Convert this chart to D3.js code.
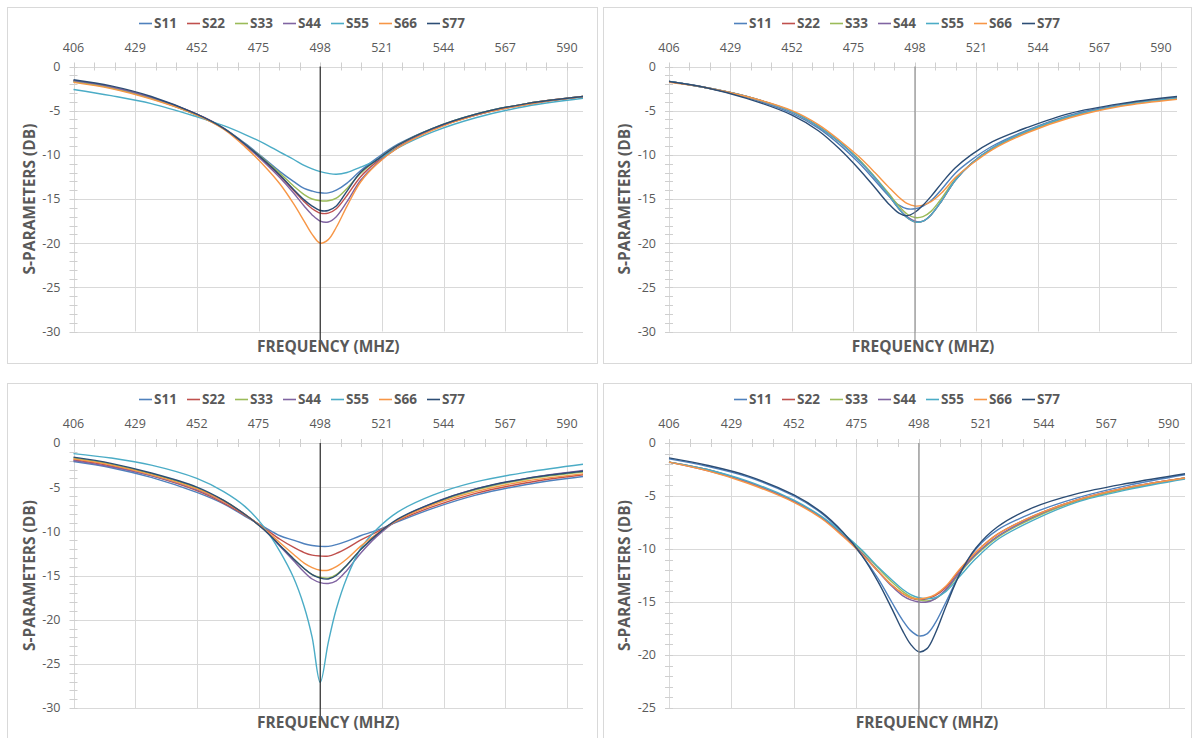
<!DOCTYPE html>
<html>
<head>
<meta charset="utf-8">
<script src="https://cdn.jsdelivr.net/npm/d3@7"></script>
<style>
  body { margin: 0; background: #fff; }
  svg { display: block; }
  text { font-family: "Open Sans", "DejaVu Sans", sans-serif; }
</style>
</head>
<body>
<svg id="chart" width="1197" height="738"></svg>
<script>
// ---- data -------------------------------------------------------------
const seriesNames  = ["S11", "S22", "S33", "S44", "S55", "S66", "S77"];
const seriesColors = ["#4F81BD", "#C0504D", "#9BBB59", "#8064A2", "#4BACC6", "#F79646", "#2C4D75"];

const freqMHz     = [406, 420, 435, 452, 462, 470, 477, 483, 488, 492, 495, 498, 501, 504, 508, 513, 519, 527, 540, 556, 575, 596];
const xTickLabels = [406, 429, 452, 475, 498, 521, 544, 567, 590];
const yTicks30    = [0, -5, -10, -15, -20, -25, -30];
const yTicks25    = [0, -5, -10, -15, -20, -25];
const markerFreq  = 498;

// chart 1 (top left)
const c1S11 = [-1.7, -2.4, -3.6, -5.5, -7.0, -8.7, -10.4, -11.9, -13.0, -13.8, -14.1, -14.3, -14.3, -14.0, -13.2, -11.8, -10.4, -8.8, -7.0, -5.4, -4.2, -3.4];
const c1S22 = [-1.6, -2.3, -3.5, -5.4, -7.0, -8.9, -10.7, -12.4, -14.0, -15.3, -16.1, -16.6, -16.6, -16.1, -14.6, -12.5, -10.8, -9.1, -7.1, -5.5, -4.2, -3.4];
const c1S33 = [-1.7, -2.4, -3.6, -5.5, -7.0, -8.8, -10.5, -12.1, -13.5, -14.5, -15.0, -15.2, -15.2, -14.9, -13.8, -12.1, -10.6, -8.9, -7.0, -5.4, -4.2, -3.4];
const c1S44 = [-1.6, -2.3, -3.5, -5.4, -7.0, -8.9, -10.8, -12.6, -14.3, -15.8, -16.8, -17.5, -17.6, -17.0, -15.3, -12.9, -11.0, -9.2, -7.1, -5.5, -4.3, -3.4];
const c1S55 = [-2.6, -3.3, -4.2, -5.7, -6.7, -7.7, -8.7, -9.7, -10.5, -11.2, -11.6, -11.9, -12.1, -12.2, -12.0, -11.4, -10.6, -9.2, -7.4, -5.8, -4.5, -3.6];
const c1S66 = [-1.8, -2.5, -3.7, -5.5, -7.1, -9.1, -11.2, -13.3, -15.5, -17.5, -19.0, -20.0, -19.6, -18.2, -15.8, -13.1, -11.1, -9.2, -7.2, -5.5, -4.3, -3.4];
const c1S77 = [-1.5, -2.2, -3.4, -5.4, -7.0, -8.8, -10.6, -12.3, -13.9, -15.1, -15.8, -16.3, -16.3, -15.8, -14.1, -12.0, -10.6, -8.9, -7.0, -5.4, -4.2, -3.4];

// chart 2 (top right)
const c2S11 = [-1.7, -2.4, -3.5, -5.3, -7.0, -8.9, -10.9, -12.9, -14.6, -15.7, -16.1, -16.1, -15.8, -15.2, -13.9, -12.1, -10.6, -9.0, -7.2, -5.5, -4.3, -3.5];
const c2S22 = [-1.7, -2.4, -3.4, -5.1, -6.8, -8.6, -10.6, -12.6, -14.5, -16.1, -17.1, -17.6, -17.5, -16.8, -15.2, -12.9, -11.0, -9.3, -7.3, -5.6, -4.4, -3.6];
const c2S33 = [-1.7, -2.4, -3.4, -5.1, -6.8, -8.6, -10.5, -12.5, -14.3, -15.8, -16.7, -17.1, -17.0, -16.4, -14.9, -12.8, -11.0, -9.3, -7.4, -5.7, -4.4, -3.6];
const c2S44 = [-1.7, -2.4, -3.4, -5.1, -6.8, -8.6, -10.6, -12.6, -14.5, -16.1, -17.0, -17.5, -17.5, -16.8, -15.2, -12.9, -11.0, -9.2, -7.3, -5.6, -4.4, -3.6];
const c2S55 = [-1.7, -2.4, -3.4, -5.1, -6.8, -8.6, -10.6, -12.6, -14.5, -16.1, -17.1, -17.6, -17.5, -16.8, -15.2, -12.9, -11.0, -9.2, -7.3, -5.6, -4.4, -3.6];
const c2S66 = [-1.8, -2.4, -3.4, -5.0, -6.6, -8.4, -10.2, -12.0, -13.6, -14.8, -15.5, -15.8, -15.7, -15.3, -14.3, -12.6, -11.1, -9.4, -7.5, -5.8, -4.5, -3.7];
const c2S77 = [-1.7, -2.4, -3.6, -5.5, -7.3, -9.4, -11.6, -13.7, -15.5, -16.6, -16.9, -16.5, -15.7, -14.7, -13.2, -11.5, -10.0, -8.5, -6.9, -5.3, -4.2, -3.4];

// chart 3 (bottom left)
const c3S11 = [-2.1, -2.8, -3.9, -5.6, -6.9, -8.3, -9.5, -10.5, -11.0, -11.4, -11.6, -11.7, -11.7, -11.5, -11.1, -10.5, -9.9, -8.9, -7.4, -5.9, -4.7, -3.8];
const c3S22 = [-1.9, -2.6, -3.7, -5.4, -6.8, -8.2, -9.6, -10.9, -11.8, -12.4, -12.7, -12.8, -12.8, -12.5, -11.9, -11.0, -10.1, -8.8, -7.2, -5.7, -4.5, -3.6];
const c3S33 = [-1.7, -2.4, -3.5, -5.1, -6.5, -8.1, -9.8, -11.6, -13.1, -14.2, -14.9, -15.2, -15.3, -14.9, -13.8, -12.1, -10.4, -8.7, -6.9, -5.3, -4.1, -3.3];
const c3S44 = [-2.0, -2.7, -3.7, -5.3, -6.6, -8.1, -9.8, -11.7, -13.3, -14.6, -15.4, -15.8, -15.9, -15.6, -14.4, -12.5, -10.6, -8.7, -6.8, -5.2, -4.0, -3.1];
const c3S55 = [-1.2, -1.7, -2.5, -4.0, -5.5, -7.2, -9.5, -12.3, -15.2, -18.5, -22.0, -27.1, -22.6, -18.8, -15.2, -12.0, -9.8, -7.8, -5.9, -4.4, -3.3, -2.4];
const c3S66 = [-1.8, -2.5, -3.6, -5.2, -6.6, -8.1, -9.7, -11.3, -12.6, -13.6, -14.1, -14.4, -14.4, -14.0, -13.1, -11.7, -10.3, -8.7, -7.0, -5.5, -4.3, -3.5];
const c3S77 = [-1.6, -2.3, -3.4, -5.0, -6.5, -8.1, -9.8, -11.6, -13.1, -14.2, -14.9, -15.3, -15.4, -15.0, -13.8, -12.1, -10.4, -8.6, -6.8, -5.2, -4.0, -3.2];

// chart 4 (bottom right)
const c4S11 = [-1.5, -2.2, -3.2, -5.0, -6.6, -8.5, -10.6, -12.8, -15.0, -16.7, -17.7, -18.2, -18.0, -17.0, -15.0, -12.4, -10.0, -8.2, -6.6, -5.2, -4.0, -3.0];
const c4S22 = [-1.8, -2.6, -3.7, -5.5, -7.0, -8.7, -10.4, -12.1, -13.4, -14.2, -14.6, -14.8, -14.7, -14.4, -13.6, -12.0, -10.3, -8.6, -6.9, -5.4, -4.2, -3.3];
const c4S33 = [-1.8, -2.5, -3.7, -5.5, -7.0, -8.6, -10.2, -11.8, -13.1, -14.0, -14.5, -14.8, -14.9, -14.7, -13.9, -12.3, -10.6, -8.9, -7.1, -5.5, -4.3, -3.3];
const c4S44 = [-1.8, -2.5, -3.7, -5.5, -7.0, -8.7, -10.4, -12.1, -13.5, -14.4, -14.8, -15.0, -15.0, -14.7, -13.8, -12.2, -10.5, -8.8, -7.0, -5.4, -4.2, -3.3];
const c4S55 = [-1.8, -2.5, -3.6, -5.4, -6.9, -8.5, -10.1, -11.7, -12.9, -13.8, -14.3, -14.6, -14.7, -14.6, -14.0, -12.6, -10.9, -9.1, -7.3, -5.6, -4.4, -3.4];
const c4S66 = [-1.8, -2.6, -3.8, -5.6, -7.1, -8.8, -10.5, -12.1, -13.4, -14.2, -14.6, -14.7, -14.6, -14.3, -13.5, -11.9, -10.3, -8.6, -6.9, -5.4, -4.2, -3.3];
const c4S77 = [-1.4, -2.1, -3.1, -4.9, -6.5, -8.4, -10.6, -13.1, -15.6, -17.7, -19.0, -19.7, -19.4, -18.0, -15.4, -12.4, -9.9, -7.9, -6.1, -4.8, -3.8, -2.9];

// ---- layout -------------------------------------------------------------
const charts = [
  { box: [7, 7, 590, 356],   plot: [73.5, 66.5, 583, 331.5], yMin: -30, yTicks: yTicks30, marker: "#1a1a1a",
    series: [c1S11, c1S22, c1S33, c1S44, c1S55, c1S66, c1S77] },
  { box: [603, 7, 588, 356], plot: [669, 66.5, 1177, 331.5], yMin: -30, yTicks: yTicks30, marker: "#8a8a8a",
    series: [c2S11, c2S22, c2S33, c2S44, c2S55, c2S66, c2S77] },
  { box: [7, 383, 590, 370], plot: [73.5, 443, 583, 708],    yMin: -30, yTicks: yTicks30, marker: "#1a1a1a",
    series: [c3S11, c3S22, c3S33, c3S44, c3S55, c3S66, c3S77] },
  { box: [603, 383, 588, 370], plot: [669, 443, 1185, 708],  yMin: -25, yTicks: yTicks25, marker: "#8a8a8a",
    series: [c4S11, c4S22, c4S33, c4S44, c4S55, c4S66, c4S77] }
];

const textGray = "#595959";
const gridGray = "#d9d9d9";
const svg = d3.select("#chart");

charts.forEach(ch => {
  const [bx, by, bw, bh] = ch.box;
  const [pl, pt, pr, pb] = ch.plot;
  const g = svg.append("g");

  g.append("rect").attr("x", bx + 0.5).attr("y", by + 0.5).attr("width", bw).attr("height", bh)
    .attr("fill", "#fff").attr("stroke", gridGray);

  const x = d3.scaleLinear().domain([406, 596]).range([pl, pr]);
  const y = d3.scaleLinear().domain([0, ch.yMin]).range([pt, pb]);

  // gridlines
  g.append("g").selectAll("line").data(ch.yTicks.filter(v => v !== 0)).join("line")
    .attr("x1", pl).attr("x2", pr).attr("y1", d => Math.round(y(d)) + 0.5).attr("y2", d => Math.round(y(d)) + 0.5)
    .attr("stroke", gridGray);
  g.append("g").selectAll("line").data(xTickLabels).join("line")
    .attr("x1", d => Math.round(x(d)) + 0.5).attr("x2", d => Math.round(x(d)) + 0.5)
    .attr("y1", pt).attr("y2", pb).attr("stroke", gridGray);

  // axis lines with crossing minor ticks
  g.append("line").attr("x1", pl).attr("x2", pr).attr("y1", Math.round(pt) + 0.5).attr("y2", Math.round(pt) + 0.5)
    .attr("stroke", gridGray);
  g.append("line").attr("x1", Math.round(pl) + 0.5).attr("x2", Math.round(pl) + 0.5).attr("y1", pt).attr("y2", pb)
    .attr("stroke", gridGray);
  const xMinor = d3.range(0, 25).map(k => 406 + k * 23 / 3);
  g.append("g").selectAll("line").data(xMinor).join("line")
    .attr("x1", d => Math.round(x(d)) + 0.5).attr("x2", d => Math.round(x(d)) + 0.5)
    .attr("y1", pt - 4).attr("y2", pt + 4).attr("stroke", "#cfcfcf");
  const yMinor = d3.range(0, ch.yMin - 1, -1);
  g.append("g").selectAll("line").data(yMinor).join("line")
    .attr("x1", pl - 4).attr("x2", pl + 4)
    .attr("y1", d => Math.round(y(d)) + 0.5).attr("y2", d => Math.round(y(d)) + 0.5).attr("stroke", "#cfcfcf");

  // tick labels
  g.append("g").selectAll("text").data(xTickLabels).join("text")
    .attr("x", d => x(d)).attr("y", pt - 19).attr("dy", "0.35em")
    .attr("text-anchor", "middle").attr("font-size", 12.5).attr("fill", textGray).text(d => d);
  g.append("g").selectAll("text").data(ch.yTicks).join("text")
    .attr("x", pl - 13).attr("y", d => y(d)).attr("dy", "0.35em")
    .attr("text-anchor", "end").attr("font-size", 12.5).attr("fill", textGray).text(d => d);

  // series
  const line = d3.line().x((d, i) => x(freqMHz[i])).y(d => y(d)).curve(d3.curveCatmullRom.alpha(0.5));
  g.append("g").selectAll("path").data(ch.series).join("path")
    .attr("d", d => line(d)).attr("fill", "none")
    .attr("stroke", (d, i) => seriesColors[i]).attr("stroke-width", 1.4);

  // marker at the centre frequency
  g.append("line").attr("x1", x(markerFreq)).attr("x2", x(markerFreq))
    .attr("y1", pt).attr("y2", pb + 20).attr("stroke", ch.marker).attr("stroke-width", 1.1);

  // axis titles
  g.append("text").attr("x", (pl + pr) / 2).attr("y", pb + 15).attr("dy", "0.35em")
    .attr("text-anchor", "middle").attr("font-size", 15.5).attr("font-weight", 700)
    .attr("fill", textGray).text("FREQUENCY (MHZ)");
  g.append("text").attr("transform", `translate(${pl - 44},${(pt + pb) / 2}) rotate(-90)`)
    .attr("dy", "0.35em").attr("text-anchor", "middle").attr("font-size", 15.5).attr("font-weight", 700)
    .attr("fill", textGray).text("S-PARAMETERS (DB)");

  // legend
  const pitch = 48;
  const lx0 = bx + bw / 2 - (seriesNames.length * pitch - 10) / 2;
  const ly = by + 16;
  const items = g.append("g").selectAll("g").data(seriesNames).join("g")
    .attr("transform", (d, i) => `translate(${lx0 + i * pitch},${ly})`);
  items.append("line").attr("x1", 0).attr("x2", 13).attr("y1", 0.5).attr("y2", 0.5)
    .attr("stroke", (d, i) => seriesColors[i]).attr("stroke-width", 1.6);
  items.append("text").attr("x", 15).attr("y", 0).attr("dy", "0.35em")
    .attr("font-size", 13.5).attr("font-weight", 700).attr("fill", textGray).text(d => d);
});
</script>
</body>
</html>
